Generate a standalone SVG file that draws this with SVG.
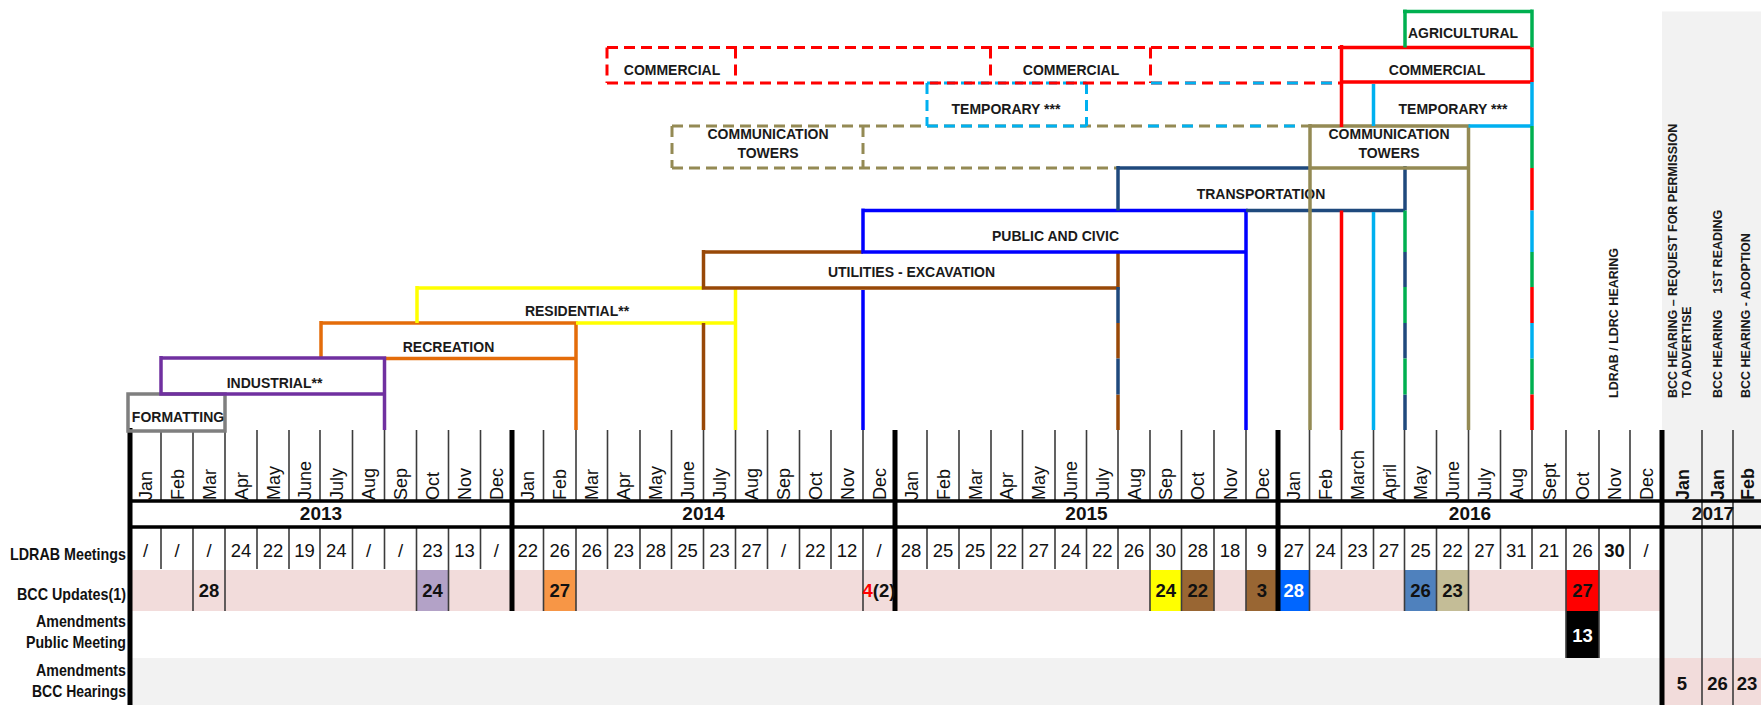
<svg xmlns="http://www.w3.org/2000/svg" width="1761" height="705" viewBox="0 0 1761 705">
<style>
.g{font-family:"Liberation Sans Narrow","Liberation Sans",Arial,sans-serif;fill:#111}
.m{font-size:18px}
.n{font-size:18.5px;text-anchor:middle}
.b{font-weight:bold}
.lab{font-family:"Liberation Sans Narrow","Liberation Sans",Arial,sans-serif;font-weight:bold;font-size:17px;text-anchor:end;fill:#111}
.t{font-family:"Liberation Sans",Arial,sans-serif;font-weight:bold;font-size:14px;text-anchor:middle;fill:#1a1a1a}
.r{font-family:"Liberation Sans",Arial,sans-serif;font-weight:bold;font-size:12.5px;fill:#1a1a1a}
.thin{stroke:#3c3c3c;stroke-width:1.6;fill:none}
.thick{stroke:#000;stroke-width:5;fill:none}
.hl{stroke:#000;stroke-width:3.5;fill:none}
.s{fill:none;stroke-width:3.5;stroke-linecap:butt}
.d{fill:none;stroke-width:3;stroke-dasharray:11 6}
</style>
<rect x="0" y="0" width="1761" height="705" fill="#fff"/>

<g id="backgrounds">
<rect x="1662" y="11.5" width="99" height="693.5" fill="#F2F2F2"/>
<rect x="130" y="570" width="1532" height="41" fill="#F2DCDB"/>
<rect x="130" y="658" width="1532" height="47" fill="#F2F2F2"/>
<rect x="1662" y="658" width="99" height="47" fill="#F2DCDB"/>
<rect x="416.5" y="570" width="32" height="41" fill="#B3A2C7"/>
<rect x="543.5" y="570" width="32.5" height="41" fill="#F79646"/>
<rect x="1150" y="570" width="31.5" height="41" fill="#FFFF00"/>
<rect x="1181.5" y="570" width="32.5" height="41" fill="#996633"/>
<rect x="1246" y="570" width="32" height="41" fill="#996633"/>
<rect x="1278" y="570" width="31.5" height="41" fill="#0066FF"/>
<rect x="1404.5" y="570" width="32" height="41" fill="#4F81BD"/>
<rect x="1436.5" y="570" width="32" height="41" fill="#C4BD97"/>
<rect x="1566" y="570" width="33" height="41" fill="#FF0000"/>
<rect x="1566" y="611" width="33" height="47" fill="#000"/>
</g>

<g id="grid">
<path class="thin" d="M161,430V501M193,430V501M225,430V501M257,430V501M289,430V501M320,430V501M352.5,430V501M384.5,430V501M416.5,430V501M448.5,430V501M480.5,430V501M543.5,430V501M576,430V501M607.5,430V501M640,430V501M671.5,430V501M703.5,430V501M735.5,430V501M767.5,430V501M799.5,430V501M831,430V501M863,430V501M927,430V501M959,430V501M991,430V501M1022.5,430V501M1055,430V501M1086.5,430V501M1118,430V501M1150,430V501M1181.5,430V501M1214,430V501M1246,430V501M1309.5,430V501M1341.5,430V501M1373.5,430V501M1404.5,430V501M1436.5,430V501M1468.5,430V501M1500.5,430V501M1532,430V501M1566,430V501M1599,430V501M1630,430V501"/>
<path class="thin" d="M161,527V569M193,527V569M225,527V569M257,527V569M289,527V569M320,527V569M352.5,527V569M384.5,527V569M416.5,527V569M448.5,527V569M480.5,527V569M543.5,527V569M576,527V569M607.5,527V569M640,527V569M671.5,527V569M703.5,527V569M735.5,527V569M767.5,527V569M799.5,527V569M831,527V569M863,527V569M927,527V569M959,527V569M991,527V569M1022.5,527V569M1055,527V569M1086.5,527V569M1118,527V569M1150,527V569M1181.5,527V569M1214,527V569M1246,527V569M1309.5,527V569M1341.5,527V569M1373.5,527V569M1404.5,527V569M1436.5,527V569M1468.5,527V569M1500.5,527V569M1532,527V569M1566,527V569M1599,527V569M1630,527V569"/>
<path class="thin" d="M193,569V611M225,569V611M416.5,569V611M448.5,569V611M543.5,569V611M576,569V611M863,569V611M1150,569V611M1181.5,569V611M1214,569V611M1246,569V611M1309.5,569V611M1404.5,569V611M1436.5,569V611M1468.5,569V611M1566,569V658M1599,569V658"/>
<path class="thin" d="M1702,430V705M1733,430V705"/>
<path class="hl" d="M130,501H1761M130,527H1761"/>
<path class="thick" d="M130,428V705M512,430V611M895,430V611M1278,430V611M1662,430V705"/>
</g>

<g id="months">
<text class="g m" transform="translate(152,500) rotate(-90)">Jan</text>
<text class="g m" transform="translate(183.5,500) rotate(-90)">Feb</text>
<text class="g m" transform="translate(215.5,500) rotate(-90)">Mar</text>
<text class="g m" transform="translate(247.5,500) rotate(-90)">Apr</text>
<text class="g m" transform="translate(279.5,500) rotate(-90)">May</text>
<text class="g m" transform="translate(311,500) rotate(-90)">June</text>
<text class="g m" transform="translate(342.75,500) rotate(-90)">July</text>
<text class="g m" transform="translate(375,500) rotate(-90)">Aug</text>
<text class="g m" transform="translate(407,500) rotate(-90)">Sep</text>
<text class="g m" transform="translate(439,500) rotate(-90)">Oct</text>
<text class="g m" transform="translate(471,500) rotate(-90)">Nov</text>
<text class="g m" transform="translate(502.75,500) rotate(-90)">Dec</text>
<text class="g m" transform="translate(534.25,500) rotate(-90)">Jan</text>
<text class="g m" transform="translate(566.25,500) rotate(-90)">Feb</text>
<text class="g m" transform="translate(598.25,500) rotate(-90)">Mar</text>
<text class="g m" transform="translate(630.25,500) rotate(-90)">Apr</text>
<text class="g m" transform="translate(662.25,500) rotate(-90)">May</text>
<text class="g m" transform="translate(694,500) rotate(-90)">June</text>
<text class="g m" transform="translate(726,500) rotate(-90)">July</text>
<text class="g m" transform="translate(758,500) rotate(-90)">Aug</text>
<text class="g m" transform="translate(790,500) rotate(-90)">Sep</text>
<text class="g m" transform="translate(821.75,500) rotate(-90)">Oct</text>
<text class="g m" transform="translate(853.5,500) rotate(-90)">Nov</text>
<text class="g m" transform="translate(885.5,500) rotate(-90)">Dec</text>
<text class="g m" transform="translate(917.5,500) rotate(-90)">Jan</text>
<text class="g m" transform="translate(949.5,500) rotate(-90)">Feb</text>
<text class="g m" transform="translate(981.5,500) rotate(-90)">Mar</text>
<text class="g m" transform="translate(1013.25,500) rotate(-90)">Apr</text>
<text class="g m" transform="translate(1045.25,500) rotate(-90)">May</text>
<text class="g m" transform="translate(1077.25,500) rotate(-90)">June</text>
<text class="g m" transform="translate(1108.75,500) rotate(-90)">July</text>
<text class="g m" transform="translate(1140.5,500) rotate(-90)">Aug</text>
<text class="g m" transform="translate(1172.25,500) rotate(-90)">Sep</text>
<text class="g m" transform="translate(1204.25,500) rotate(-90)">Oct</text>
<text class="g m" transform="translate(1236.5,500) rotate(-90)">Nov</text>
<text class="g m" transform="translate(1268.5,500) rotate(-90)">Dec</text>
<text class="g m" transform="translate(1300.25,500) rotate(-90)">Jan</text>
<text class="g m" transform="translate(1332,500) rotate(-90)">Feb</text>
<text class="g m" transform="translate(1364,500) rotate(-90)">March</text>
<text class="g m" transform="translate(1395.5,500) rotate(-90)">April</text>
<text class="g m" transform="translate(1427,500) rotate(-90)">May</text>
<text class="g m" transform="translate(1459,500) rotate(-90)">June</text>
<text class="g m" transform="translate(1491,500) rotate(-90)">July</text>
<text class="g m" transform="translate(1522.75,500) rotate(-90)">Aug</text>
<text class="g m" transform="translate(1555.5,500) rotate(-90)">Sept</text>
<text class="g m" transform="translate(1589,500) rotate(-90)">Oct</text>
<text class="g m" transform="translate(1621,500) rotate(-90)">Nov</text>
<text class="g m" transform="translate(1652.5,500) rotate(-90)">Dec</text>
<text class="g m b" transform="translate(1688.5,500) rotate(-90)">Jan</text>
<text class="g m b" transform="translate(1724,500) rotate(-90)">Jan</text>
<text class="g m b" transform="translate(1753.5,500) rotate(-90)">Feb</text>
</g>

<g id="years" class="g b" font-size="19" text-anchor="middle">
<text x="321" y="520">2013</text>
<text x="703.5" y="520">2014</text>
<text x="1086.5" y="520">2015</text>
<text x="1470" y="520">2016</text>
<text x="1713" y="520">2017</text>
</g>

<g id="row-labels">
<text class="lab" x="126" y="560" textLength="116" lengthAdjust="spacingAndGlyphs">LDRAB Meetings</text>
<text class="lab" x="126" y="600" textLength="109" lengthAdjust="spacingAndGlyphs">BCC Updates(1)</text>
<text class="lab" x="126" y="627" textLength="90" lengthAdjust="spacingAndGlyphs">Amendments</text>
<text class="lab" x="126" y="648" textLength="100" lengthAdjust="spacingAndGlyphs">Public Meeting</text>
<text class="lab" x="126" y="676" textLength="90" lengthAdjust="spacingAndGlyphs">Amendments</text>
<text class="lab" x="126" y="697" textLength="94" lengthAdjust="spacingAndGlyphs">BCC Hearings</text>
</g>

<g id="ldrab-row" class="g n">
<text x="145.5" y="556.5">/</text><text x="177" y="556.5">/</text><text x="209" y="556.5">/</text><text x="241" y="556.5">24</text><text x="273" y="556.5">22</text><text x="304.5" y="556.5">19</text><text x="336.25" y="556.5">24</text><text x="368.5" y="556.5">/</text><text x="400.5" y="556.5">/</text><text x="432.5" y="556.5">23</text><text x="464.5" y="556.5">13</text><text x="496.25" y="556.5">/</text>
<text x="527.75" y="556.5">22</text><text x="559.75" y="556.5">26</text><text x="591.75" y="556.5">26</text><text x="623.75" y="556.5">23</text><text x="655.75" y="556.5">28</text><text x="687.5" y="556.5">25</text><text x="719.5" y="556.5">23</text><text x="751.5" y="556.5">27</text><text x="783.5" y="556.5">/</text><text x="815.25" y="556.5">22</text><text x="847" y="556.5">12</text><text x="879" y="556.5">/</text>
<text x="911" y="556.5">28</text><text x="943" y="556.5">25</text><text x="975" y="556.5">25</text><text x="1006.75" y="556.5">22</text><text x="1038.75" y="556.5">27</text><text x="1070.75" y="556.5">24</text><text x="1102.25" y="556.5">22</text><text x="1134" y="556.5">26</text><text x="1165.75" y="556.5">30</text><text x="1197.75" y="556.5">28</text><text x="1230" y="556.5">18</text><text x="1262" y="556.5">9</text>
<text x="1293.75" y="556.5">27</text><text x="1325.5" y="556.5">24</text><text x="1357.5" y="556.5">23</text><text x="1389" y="556.5">27</text><text x="1420.5" y="556.5">25</text><text x="1452.5" y="556.5">22</text><text x="1484.5" y="556.5">27</text><text x="1516.25" y="556.5">31</text><text x="1549" y="556.5">21</text><text x="1582.5" y="556.5">26</text><text x="1614.5" y="556.5" font-weight="bold">30</text><text x="1646" y="556.5">/</text>
</g>

<g id="bcc-updates-row" class="g n b">
<text x="209" y="597">28</text>
<text x="432.5" y="597">24</text>
<text x="559.75" y="597">27</text>
<text x="879" y="597"><tspan fill="#FF0000">4</tspan>(2)</text>
<text x="1165.75" y="597">24</text>
<text x="1197.75" y="597">22</text>
<text x="1262" y="597">3</text>
<text x="1293.75" y="597" fill="#fff">28</text>
<text x="1420.5" y="597">26</text>
<text x="1452.5" y="597">23</text>
<text x="1582.5" y="597">27</text>
</g>

<g id="public-meeting-row" class="g n b">
<text x="1582.5" y="641.5" fill="#fff">13</text>
</g>

<g id="bcc-hearings-row" class="g n b">
<text x="1682" y="690">5</text>
<text x="1717.5" y="690">26</text>
<text x="1747" y="690">23</text>
</g>

<g id="milestones">
<text class="r" transform="translate(1618,398) rotate(-90)">LDRAB / LDRC HEARING</text>
<text class="r" font-size="13" transform="translate(1677,398) rotate(-90)">BCC HEARING – REQUEST FOR PERMISSION</text>
<text class="r" font-size="13" transform="translate(1691,398) rotate(-90)">TO ADVERTISE</text>
<text class="r" transform="translate(1722,398) rotate(-90)">BCC HEARING<tspan dx="16">1ST READING</tspan></text>
<text class="r" transform="translate(1750,398) rotate(-90)">BCC HEARING - ADOPTION</text>
</g>

<g id="communication-towers-planned">
<path class="d" stroke="#948A54" d="M672,126H1310M672,168H1118M672,126V168M863,126V168"/>
<text class="t" x="768" y="139">COMMUNICATION</text>
<text class="t" x="768" y="158">TOWERS</text>
</g>
<g id="temporary-planned">
<path class="d" stroke="#00B0F0" d="M927,83H1086.5M927,83V126M1086.5,83V126"/>
<path class="d" stroke="#00B0F0" d="M927,126H1086.5"/>
<path fill="none" stroke="#00B0F0" stroke-width="3" stroke-dasharray="11 23" d="M1148,126H1310"/>
<text class="t" x="1006" y="114">TEMPORARY ***</text>
</g>
<g id="commercial-planned">
<path class="d" stroke="#FF0000" d="M607,47.5H1341.5M607,83H1341.5M607,47.5V83M735.5,47.5V83M990.5,47.5V83"/>
<path class="d" stroke="#FF0000" stroke-width="4.5" d="M1150.5,47.5V83"/>
<path fill="none" stroke="#00B0F0" stroke-width="3" stroke-dasharray="11 23" d="M1151,83H1341.5"/>
<text class="t" x="672" y="75">COMMERCIAL</text>
<text class="t" x="1071" y="75">COMMERCIAL</text>
</g>

<g id="formatting">
<rect class="s" x="128" y="394" width="97" height="37" stroke="#7F7F7F"/>
<text class="t" x="178" y="422">FORMATTING</text>
</g>
<g id="recreation">
<path class="s" stroke="#E46C0A" d="M321,321V358M321,323H576V430M384.5,358.5H576"/>
<text class="t" x="448.5" y="352">RECREATION</text>
</g>
<g id="industrial">
<path class="s" stroke="#7030A0" d="M161,356V394H384.5M161,358H384.5V430"/>
<text class="t" x="274.5" y="388">INDUSTRIAL**</text>
</g>
<g id="residential">
<path class="s" stroke="#FFFF00" d="M417,286V323M417,288H703.5M735.5,288V430M576,323H735.5"/>
<text class="t" x="577" y="316">RESIDENTIAL**</text>
</g>
<g id="utilities">
<path class="s" stroke="#984807" d="M703.5,250V288H1118V252M703.5,252H863M703.5,323V430M1118,323V358.5M1118,394.5V430"/>
<text class="t" x="911.5" y="277">UTILITIES - EXCAVATION</text>
</g>
<g id="public-civic">
<path class="s" stroke="#0000FF" d="M863,208.5V252H1246V210.5H863M863,290V430M1246,252V430"/>
<text class="t" x="1055.5" y="241">PUBLIC AND CIVIC</text>
</g>
<g id="transportation">
<path class="s" stroke-width="4" stroke="#1F497D" d="M1118,166V210.5M1118,168H1310M1246,210.5H1405M1405,166V210.5M1405,252V287M1405,323V358.5M1405,394.5V430M1118,287V323M1118,358.5V394.5"/>
<path class="s" stroke-width="4" stroke="#00B050" d="M1405,210.5V252M1405,287V323M1405,358.5V394.5"/>
<text class="t" x="1261" y="199">TRANSPORTATION</text>
</g>
<g id="communication-towers">
<path class="s" stroke-width="4" stroke="#948A54" d="M1310,124V430M1310,126H1468.5V430M1310,168H1468.5"/>
<text class="t" x="1389" y="139">COMMUNICATION</text>
<text class="t" x="1389" y="158">TOWERS</text>
</g>
<g id="commercial">
<path class="s" stroke-width="5" stroke="#FF0000" d="M1341.5,45V127M1341.5,47.5H1532M1341.5,82H1532M1341.5,210.5V430"/>
<text class="t" x="1437" y="75">COMMERCIAL</text>
</g>
<g id="temporary">
<path class="s" stroke-width="4" stroke="#00B0F0" d="M1373.5,84V126M1373.5,212V430M1468.5,126H1532"/>
<text class="t" x="1453" y="114">TEMPORARY ***</text>
</g>
<g id="agricultural">
<path class="s" stroke-width="4" stroke="#00B050" d="M1405,9.5V47.5M1403,11.5H1532"/>
<text class="t" x="1463" y="38">AGRICULTURAL</text>
</g>
<g id="right-edge">
<path class="s" stroke-width="4" stroke="#00B050" d="M1532,9.5V47.5M1532,126V168M1532,252V287M1532,358.5V394.5"/>
<path class="s" stroke-width="4" stroke="#FF0000" d="M1532,47.5V82M1532,168V210.5M1532,287V323M1532,394.5V430"/>
<path class="s" stroke-width="4" stroke="#00B0F0" d="M1532,82V126M1532,210.5V252M1532,323V358.5"/>
</g>
</svg>
